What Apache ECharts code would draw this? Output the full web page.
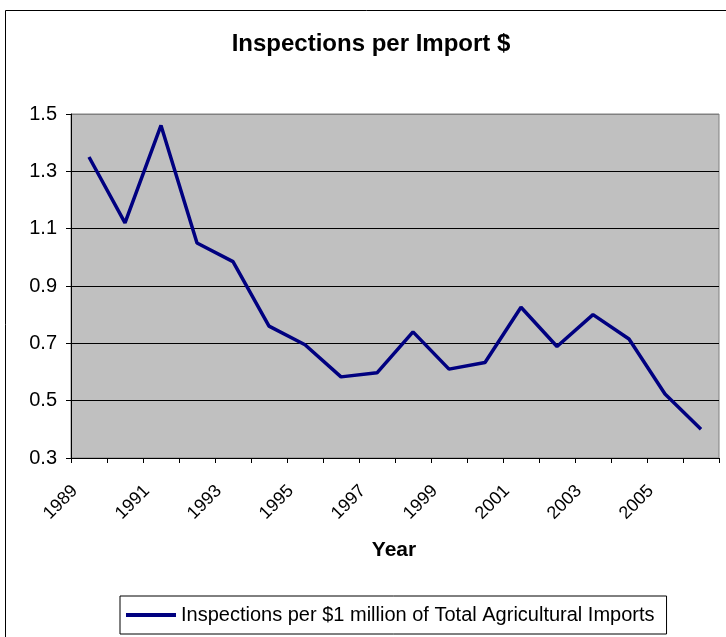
<!DOCTYPE html>
<html>
<head>
<meta charset="utf-8">
<script src="https://cdn.jsdelivr.net/npm/echarts@6/dist/echarts.min.js"></script>
<style>
html,body{margin:0;padding:0;background:#fff;}
#c{width:726px;height:637px;}
</style>
</head>
<body>
<div id="c"></div>
<script>
const titleText = 'Inspections per Import $';
const xAxisTitle = 'Year';
const seriesName = 'Inspections per $1 million of Total Agricultural Imports';
const years = ['1989','1990','1991','1992','1993','1994','1995','1996','1997','1998','1999','2000','2001','2002','2003','2004','2005','2006'];
const inspections = [1.35, 1.12, 1.46, 1.05, 0.985, 0.76, 0.695, 0.583, 0.597, 0.74, 0.61, 0.633, 0.826, 0.689, 0.80, 0.715, 0.523, 0.40];
const yMin = 0.3, yMax = 1.5, yStep = 0.2;

const FONT = "'Liberation Sans', Arial, sans-serif";
const chart = echarts.init(document.getElementById('c'), null, {renderer: 'canvas'});
chart.setOption({
  animation: false,
  backgroundColor: '#ffffff',
  graphic: [
    {type: 'rect', left: 5, top: 10, z: -10, silent: true,
      shape: {x: 0, y: 0, width: 800, height: 700},
      style: {fill: '#ffffff', stroke: '#000000', lineWidth: 1}},
    {type: 'text', x: 371, y: 44, silent: true,
      style: {text: titleText, font: 'bold 24px ' + FONT, fill: '#000', textAlign: 'center', textVerticalAlign: 'middle'}},
    {type: 'text', x: 394, y: 550, silent: true,
      style: {text: xAxisTitle, font: 'bold 21px ' + FONT, fill: '#000', textAlign: 'center', textVerticalAlign: 'middle'}}
  ],
  grid: {
    left: 71, right: 7, top: 114, bottom: 179,
    show: true, backgroundColor: '#C0C0C0', borderColor: '#808080', borderWidth: 1
  },
  legend: {
    left: 120, top: 596,
    padding: [9, 12, 9, 6],
    borderColor: '#000', borderWidth: 1,
    itemWidth: 50, itemHeight: 4, icon: 'rect',
    textStyle: {fontFamily: FONT, fontSize: 20, color: '#000'},
    data: [seriesName]
  },
  xAxis: {
    type: 'category',
    data: years,
    boundaryGap: true,
    axisLine: {lineStyle: {color: '#000', width: 1}},
    axisTick: {show: true, interval: 0, length: 5, lineStyle: {color: '#000'}},
    axisLabel: {interval: 1, rotate: 45, margin: 16, padding: [0, 20, 0, 0],
      fontFamily: FONT, fontSize: 18, color: '#000'},
    splitLine: {show: false}
  },
  yAxis: {
    type: 'value',
    min: yMin, max: yMax, interval: yStep,
    axisLine: {show: true, lineStyle: {color: '#000', width: 1}},
    axisTick: {show: true, length: 5, lineStyle: {color: '#000'}},
    axisLabel: {margin: 14, fontFamily: FONT, fontSize: 20, color: '#000',
      formatter: v => v.toFixed(1)},
    splitLine: {show: true, lineStyle: {color: ['#000','#000','#000','#000','#000','#000','#808080'], width: 1}}
  },
  series: [{
    name: seriesName,
    type: 'line',
    data: inspections,
    symbol: 'none',
    lineStyle: {color: '#000080', width: 3.5},
    itemStyle: {color: '#000080'}
  }]
});
</script>
</body>
</html>
